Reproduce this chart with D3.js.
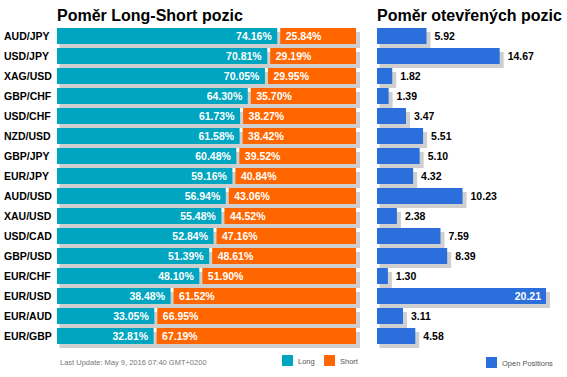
<!DOCTYPE html>
<html><head><meta charset="utf-8">
<script src="https://cdn.jsdelivr.net/npm/d3@7"></script>
<style>
body{margin:0;background:#fff;}
svg{display:block;font-family:Arial,"Liberation Sans",sans-serif;}
</style></head><body>
<svg id="c" width="567" height="377"></svg>
<script>
const pairs = ["AUD/JPY","USD/JPY","XAG/USD","GBP/CHF","USD/CHF","NZD/USD","GBP/JPY","EUR/JPY","AUD/USD","XAU/USD","USD/CAD","GBP/USD","EUR/CHF","EUR/USD","EUR/AUD","EUR/GBP"];
const longPct = [74.16,70.81,70.05,64.30,61.73,61.58,60.48,59.16,56.94,55.48,52.84,51.39,48.10,38.48,33.05,32.81];
const shortPct = [25.84,29.19,29.95,35.70,38.27,38.42,39.52,40.84,43.06,44.52,47.16,48.61,51.90,61.52,66.95,67.19];
const openPos = [5.92,14.67,1.82,1.39,3.47,5.51,5.10,4.32,10.23,2.38,7.59,8.39,1.30,20.21,3.11,4.58];

const svg = d3.select("#c");
const teal = "#00a5c0", orange = "#ff6600", blue = "#2a6fdb", shadow = "#cfcfcf";

const y = d3.scaleBand().domain(pairs).range([28, 344]).paddingInner(0.2).paddingOuter(0);
const x = d3.scaleLinear().domain([0, 100]).range([57, 356]);
const x2 = d3.scaleLinear().domain([0, 20.21]).range([377, 546]);
const bh = y.bandwidth();

// titles
svg.append("text").attr("x", 57).attr("y", 21).attr("font-size", 16).attr("font-weight", "bold").attr("fill", "#000").text("Poměr Long-Short pozic");
svg.append("text").attr("x", 377).attr("y", 21).attr("font-size", 16).attr("font-weight", "bold").attr("fill", "#000").text("Poměr otevřených pozic");

const rows = pairs.map((p, i) => ({p, l: longPct[i], s: shortPct[i], o: openPos[i]}));

// left panel
const g = svg.append("g");
g.selectAll("rect.sh").data(rows).join("rect").attr("class", "sh")
  .attr("x", x(0) + 2.5).attr("y", d => y(d.p) + 4).attr("width", x(100) + 4 - x(0) - 2.5).attr("height", bh).attr("fill", shadow);
g.selectAll("rect.lg").data(rows).join("rect").attr("class", "lg")
  .attr("x", x(0)).attr("y", d => y(d.p)).attr("width", d => x(d.l) - 1.5 - x(0)).attr("height", bh).attr("fill", teal);
g.selectAll("rect.st").data(rows).join("rect").attr("class", "st")
  .attr("x", d => x(d.l) + 1.5).attr("y", d => y(d.p)).attr("width", d => x(100) - x(d.l) - 1.5).attr("height", bh).attr("fill", orange);
g.selectAll("text.lt").data(rows).join("text").attr("class", "lt")
  .attr("x", d => x(d.l) - 7).attr("y", d => y(d.p) + bh / 2 + 4).attr("text-anchor", "end")
  .attr("font-size", 10.5).attr("font-weight", "bold").attr("fill", "#fff").text(d => d.l.toFixed(2) + "%");
g.selectAll("text.stt").data(rows).join("text").attr("class", "stt")
  .attr("x", d => x(d.l) + 7).attr("y", d => y(d.p) + bh / 2 + 4)
  .attr("font-size", 10.5).attr("font-weight", "bold").attr("fill", "#fff").text(d => d.s.toFixed(2) + "%");
g.selectAll("text.cat").data(rows).join("text").attr("class", "cat")
  .attr("x", 4).attr("y", d => y(d.p) + bh / 2 + 4)
  .attr("font-size", 10.5).attr("font-weight", "bold").attr("fill", "#000").text(d => d.p);

// right panel
const maxO = d3.max(openPos);
const r = svg.append("g");
r.selectAll("rect.sh").data(rows).join("rect").attr("class", "sh")
  .attr("x", x2(0) + 2.5).attr("y", d => y(d.p) + 4).attr("width", d => x2(d.o) + 4 - x2(0) - 2.5).attr("height", bh).attr("fill", shadow);
r.selectAll("rect.ob").data(rows).join("rect").attr("class", "ob")
  .attr("x", x2(0)).attr("y", d => y(d.p)).attr("width", d => x2(d.o) - x2(0)).attr("height", bh).attr("fill", blue);
r.selectAll("text.ov").data(rows).join("text").attr("class", "ov")
  .attr("x", d => d.o === maxO ? x2(d.o) - 5 : x2(d.o) + 8)
  .attr("text-anchor", d => d.o === maxO ? "end" : "start")
  .attr("y", d => y(d.p) + bh / 2 + 4)
  .attr("font-size", 10.5).attr("font-weight", "bold")
  .attr("fill", d => d.o === maxO ? "#fff" : "#000").text(d => d.o.toFixed(2));

// footer
svg.append("text").attr("x", 60).attr("y", 365).attr("font-size", 7.5).attr("fill", "#777").text("Last Update: May 9, 2016 07:40 GMT+0200");
const legend = [
  {label: "Long", color: teal, x: 282, y: 355},
  {label: "Short", color: orange, x: 324, y: 355},
  {label: "Open Positions", color: blue, x: 486, y: 357}
];
const lg = svg.selectAll("g.leg").data(legend).join("g").attr("class", "leg");
lg.append("rect").attr("x", d => d.x).attr("y", d => d.y).attr("width", 11).attr("height", 11).attr("fill", d => d.color);
lg.append("text").attr("x", d => d.x + 16).attr("y", d => d.y + 9).attr("font-size", 7.5).attr("fill", "#555").text(d => d.label);
</script>
</body></html>
